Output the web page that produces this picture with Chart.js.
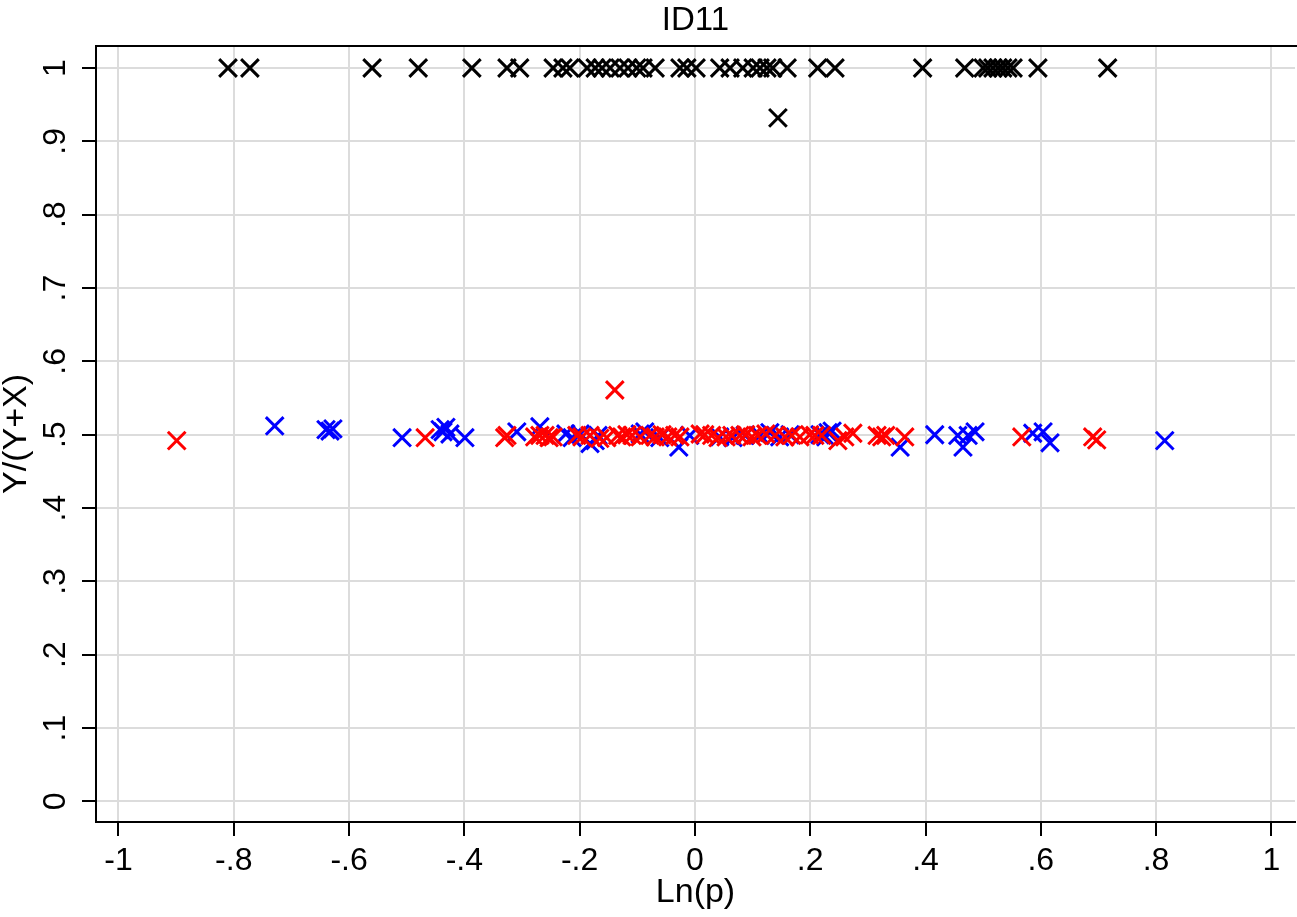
<!DOCTYPE html>
<html>
<head>
<meta charset="utf-8">
<title>ID11</title>
<script src="https://cdn.jsdelivr.net/npm/chart.js@4.4.1/dist/chart.umd.min.js"></script>
<style>
  html, body { margin: 0; padding: 0; background: #ffffff; }
  canvas { display: block; }
</style>
</head>
<body>
<canvas id="c" width="1297" height="917"></canvas>
<script>
// Ln(p) and Y/(Y+X) pairs for each group
const blackX = [-0.810, -0.772, -0.560, -0.480, -0.387, -0.326, -0.304, -0.246, -0.229, -0.217,
  -0.187, -0.173, -0.161, -0.147, -0.130, -0.116, -0.101, -0.090, -0.069, -0.026,
  -0.014, 0.002, 0.043, 0.061, 0.083, 0.101, 0.113, 0.125, 0.135, 0.160,
  0.213, 0.243, 0.395, 0.468, 0.500, 0.508, 0.517, 0.526, 0.534, 0.543,
  0.552, 0.595, 0.716, 0.144];
const blackY = [1, 1, 1, 1, 1, 1, 1, 1, 1, 1,
  1, 1, 1, 1, 1, 1, 1, 1, 1, 1,
  1, 1, 1, 1, 1, 1, 1, 1, 1, 1,
  1, 1, 1, 1, 1, 1, 1, 1, 1, 1,
  1, 1, 1, 0.932];

const redX = [-0.899, -0.468, -0.330, -0.326, -0.278, -0.269, -0.260, -0.253, -0.246, -0.205,
  -0.196, -0.182, -0.165, -0.153, -0.139, -0.134, -0.127, -0.118, -0.109, -0.095,
  -0.078, -0.069, -0.057, -0.047, -0.035, -0.026, 0.009, 0.017, 0.029, 0.040,
  0.054, 0.064, 0.078, 0.088, 0.099, 0.109, 0.123, 0.139, 0.156, 0.168,
  0.182, 0.199, 0.208, 0.220, 0.248, 0.260, 0.274, 0.316, 0.324, 0.331,
  0.364, 0.567, 0.690, 0.697];
const redY = [0.492, 0.496, 0.496, 0.499, 0.497, 0.499, 0.499, 0.496, 0.497, 0.499,
  0.497, 0.499, 0.495, 0.496, 0.561, 0.499, 0.497, 0.500, 0.499, 0.497,
  0.499, 0.497, 0.500, 0.497, 0.499, 0.497, 0.501, 0.500, 0.499, 0.496,
  0.497, 0.499, 0.499, 0.500, 0.497, 0.499, 0.501, 0.499, 0.497, 0.499,
  0.497, 0.500, 0.499, 0.499, 0.492, 0.497, 0.502, 0.499, 0.497, 0.499,
  0.497, 0.497, 0.497, 0.493];

const blueX = [-0.729, -0.640, -0.633, -0.628, -0.508, -0.442, -0.437, -0.432, -0.425, -0.399,
  -0.309, -0.269, -0.224, -0.213, -0.199, -0.182, -0.173, -0.168, -0.095, -0.087,
  -0.061, -0.028, -0.009, 0.043, 0.066, 0.087, 0.113, 0.130, 0.147, 0.165,
  0.217, 0.227, 0.231, 0.238, 0.356, 0.416, 0.456, 0.465, 0.474, 0.486,
  0.586, 0.604, 0.616, 0.815];
const blueY = [0.512, 0.507, 0.505, 0.508, 0.496, 0.507, 0.504, 0.510, 0.501, 0.496,
  0.504, 0.511, 0.501, 0.496, 0.501, 0.488, 0.492, 0.499, 0.501, 0.504,
  0.496, 0.483, 0.499, 0.497, 0.496, 0.499, 0.499, 0.503, 0.497, 0.500,
  0.500, 0.497, 0.503, 0.505, 0.483, 0.500, 0.499, 0.483, 0.499, 0.504,
  0.502, 0.504, 0.489, 0.492];

const xTicks = [-1, -0.8, -0.6, -0.4, -0.2, 0, 0.2, 0.4, 0.6, 0.8, 1];
const xTickLabels = ['-1', '-.8', '-.6', '-.4', '-.2', '0', '.2', '.4', '.6', '.8', '1'];
const yTicks = [0, 0.1, 0.2, 0.3, 0.4, 0.5, 0.6, 0.7, 0.8, 0.9, 1];
const yTickLabels = ['0', '.1', '.2', '.3', '.4', '.5', '.6', '.7', '.8', '.9', '1'];

const chartTitle = 'ID11';
const xTitle = 'Ln(p)';
const yTitle = 'Y/(Y+X)';

const FONT = "'Liberation Sans', Arial, Helvetica, sans-serif";

function pairs(xs, ys) {
  return xs.map((x, i) => ({ x: x, y: ys[i] }));
}

function markerSet(label, xs, ys, color, order) {
  return {
    label: label,
    data: pairs(xs, ys),
    pointStyle: 'crossRot',
    pointRadius: 12.5,
    pointHoverRadius: 12.5,
    borderColor: color,
    backgroundColor: color,
    pointBorderWidth: 3,
    borderWidth: 3,
    showLine: false,
    order: order
  };
}

// Rotated y tick labels, axis titles, chart title and the top frame line
const textPlugin = {
  id: 'textPlugin',
  afterDraw(chart) {
    const ctx = chart.ctx;
    const area = chart.chartArea;
    const ys = chart.scales.y;
    const cx = (area.left + area.right) / 2;
    ctx.save();
    ctx.fillStyle = '#000';

    // top frame
    ctx.strokeStyle = '#000';
    ctx.lineWidth = 2;
    ctx.beginPath();
    ctx.moveTo(area.left - 1, area.top);
    ctx.lineTo(area.right + 2, area.top);
    ctx.stroke();

    ctx.textAlign = 'center';
    ctx.textBaseline = 'middle';

    ctx.font = '32px ' + FONT;
    yTicks.forEach((v, i) => {
      const py = ys.getPixelForValue(v);
      ctx.save();
      ctx.translate(56, py);
      ctx.rotate(-Math.PI / 2);
      ctx.fillText(yTickLabels[i], 0, 0);
      ctx.restore();
    });

    // axis titles
    ctx.font = '34px ' + FONT;
    ctx.save();
    ctx.translate(17, (area.top + area.bottom) / 2);
    ctx.rotate(-Math.PI / 2);
    ctx.fillText(yTitle, 0, 0);
    ctx.restore();
    ctx.fillText(xTitle, cx, 893);

    // chart title
    ctx.font = '33px ' + FONT;
    ctx.fillText(chartTitle, cx, 21);
    ctx.restore();
  }
};

new Chart(document.getElementById('c'), {
  type: 'scatter',
  data: {
    datasets: [
      markerSet('red', redX, redY, '#ff0000', 0),
      markerSet('blue', blueX, blueY, '#0000ff', 1),
      markerSet('black', blackX, blackY, '#000000', 2)
    ]
  },
  options: {
    responsive: false,
    animation: false,
    events: [],
    layout: { autoPadding: false, padding: { top: 46, right: 2, left: 0, bottom: 0 } },
    plugins: {
      legend: { display: false },
      tooltip: { enabled: false },
      title: { display: false }
    },
    scales: {
      x: {
        type: 'linear',
        min: -1.039,
        max: 1.041,
        afterBuildTicks(scale) { scale.ticks = xTicks.map(v => ({ value: v })); },
        afterFit(scale) {
          scale.height = 95;
          scale.paddingLeft = 0;
          scale.paddingRight = 0;
        },
        grid: {
          color: '#dcdcdc',
          lineWidth: 2,
          drawTicks: true,
          tickLength: 14,
          tickColor: '#000',
          tickWidth: 2
        },
        border: { display: true, color: '#000', width: 2 },
        ticks: {
          color: '#000',
          font: { family: FONT, size: 32 },
          padding: 6,
          maxRotation: 0,
          minRotation: 0,
          autoSkip: false,
          callback(value) {
            const i = xTicks.findIndex(t => Math.abs(t - value) < 1e-9);
            return i >= 0 ? xTickLabels[i] : '';
          }
        }
      },
      y: {
        type: 'linear',
        min: -0.028,
        max: 1.030,
        afterBuildTicks(scale) { scale.ticks = yTicks.map(v => ({ value: v })); },
        afterFit(scale) {
          scale.width = 96;
          scale.paddingTop = 0;
          scale.paddingBottom = 0;
        },
        grid: {
          color: '#dcdcdc',
          lineWidth: 2,
          drawTicks: true,
          tickLength: 14,
          tickColor: '#000',
          tickWidth: 2
        },
        border: { display: true, color: '#000', width: 2 },
        ticks: { display: false }
      }
    }
  },
  plugins: [textPlugin]
});
</script>
</body>
</html>
